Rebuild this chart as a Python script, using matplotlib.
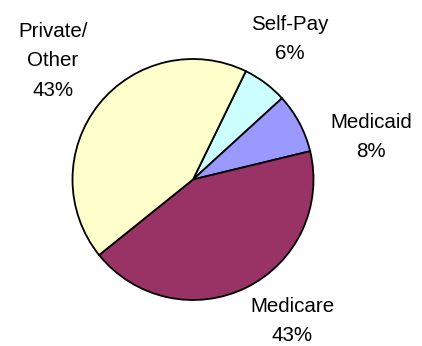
import matplotlib
matplotlib.use("Agg")
import matplotlib.pyplot as plt

# Payer mix (percent), drawn clockwise from the top-right wedge
categories = ["Self-Pay", "Medicaid", "Medicare", "Private/\nOther"]
shares = [6, 8, 43, 43]
colors = ["#CCFFFF", "#9999FF", "#993366", "#FFFFCC"]

W, H = 422, 346
fig = plt.figure(figsize=(W / 100, H / 100), dpi=100)
ax = fig.add_axes([0, 0, 1, 1])
ax.set_xlim(0, W)
ax.set_ylim(0, H)
ax.set_aspect("equal")
ax.axis("off")

cx, cy, r = 193, H - 179.5, 120.5
ax.pie(shares, colors=colors, startangle=64, counterclock=False,
       center=(cx, cy), radius=r, frame=True,
       wedgeprops=dict(edgecolor="black", linewidth=1.3))
ax.set_xlim(0, W)
ax.set_ylim(0, H)
ax.axis("off")

# label anchor points (pixel coordinates from top-left)
label_pos = [(290, 39), (371, 137), (292, 321), (53, 61)]
for name, val, (x, y) in zip(categories, shares, label_pos):
    ax.text(x, H - y, f"{name}\n{val}%", ha="center", va="center",
            fontsize=14.8, family=["Liberation Sans", "DejaVu Sans"],
            linespacing=1.72, color="black")

fig.savefig("out.png", dpi=100)
